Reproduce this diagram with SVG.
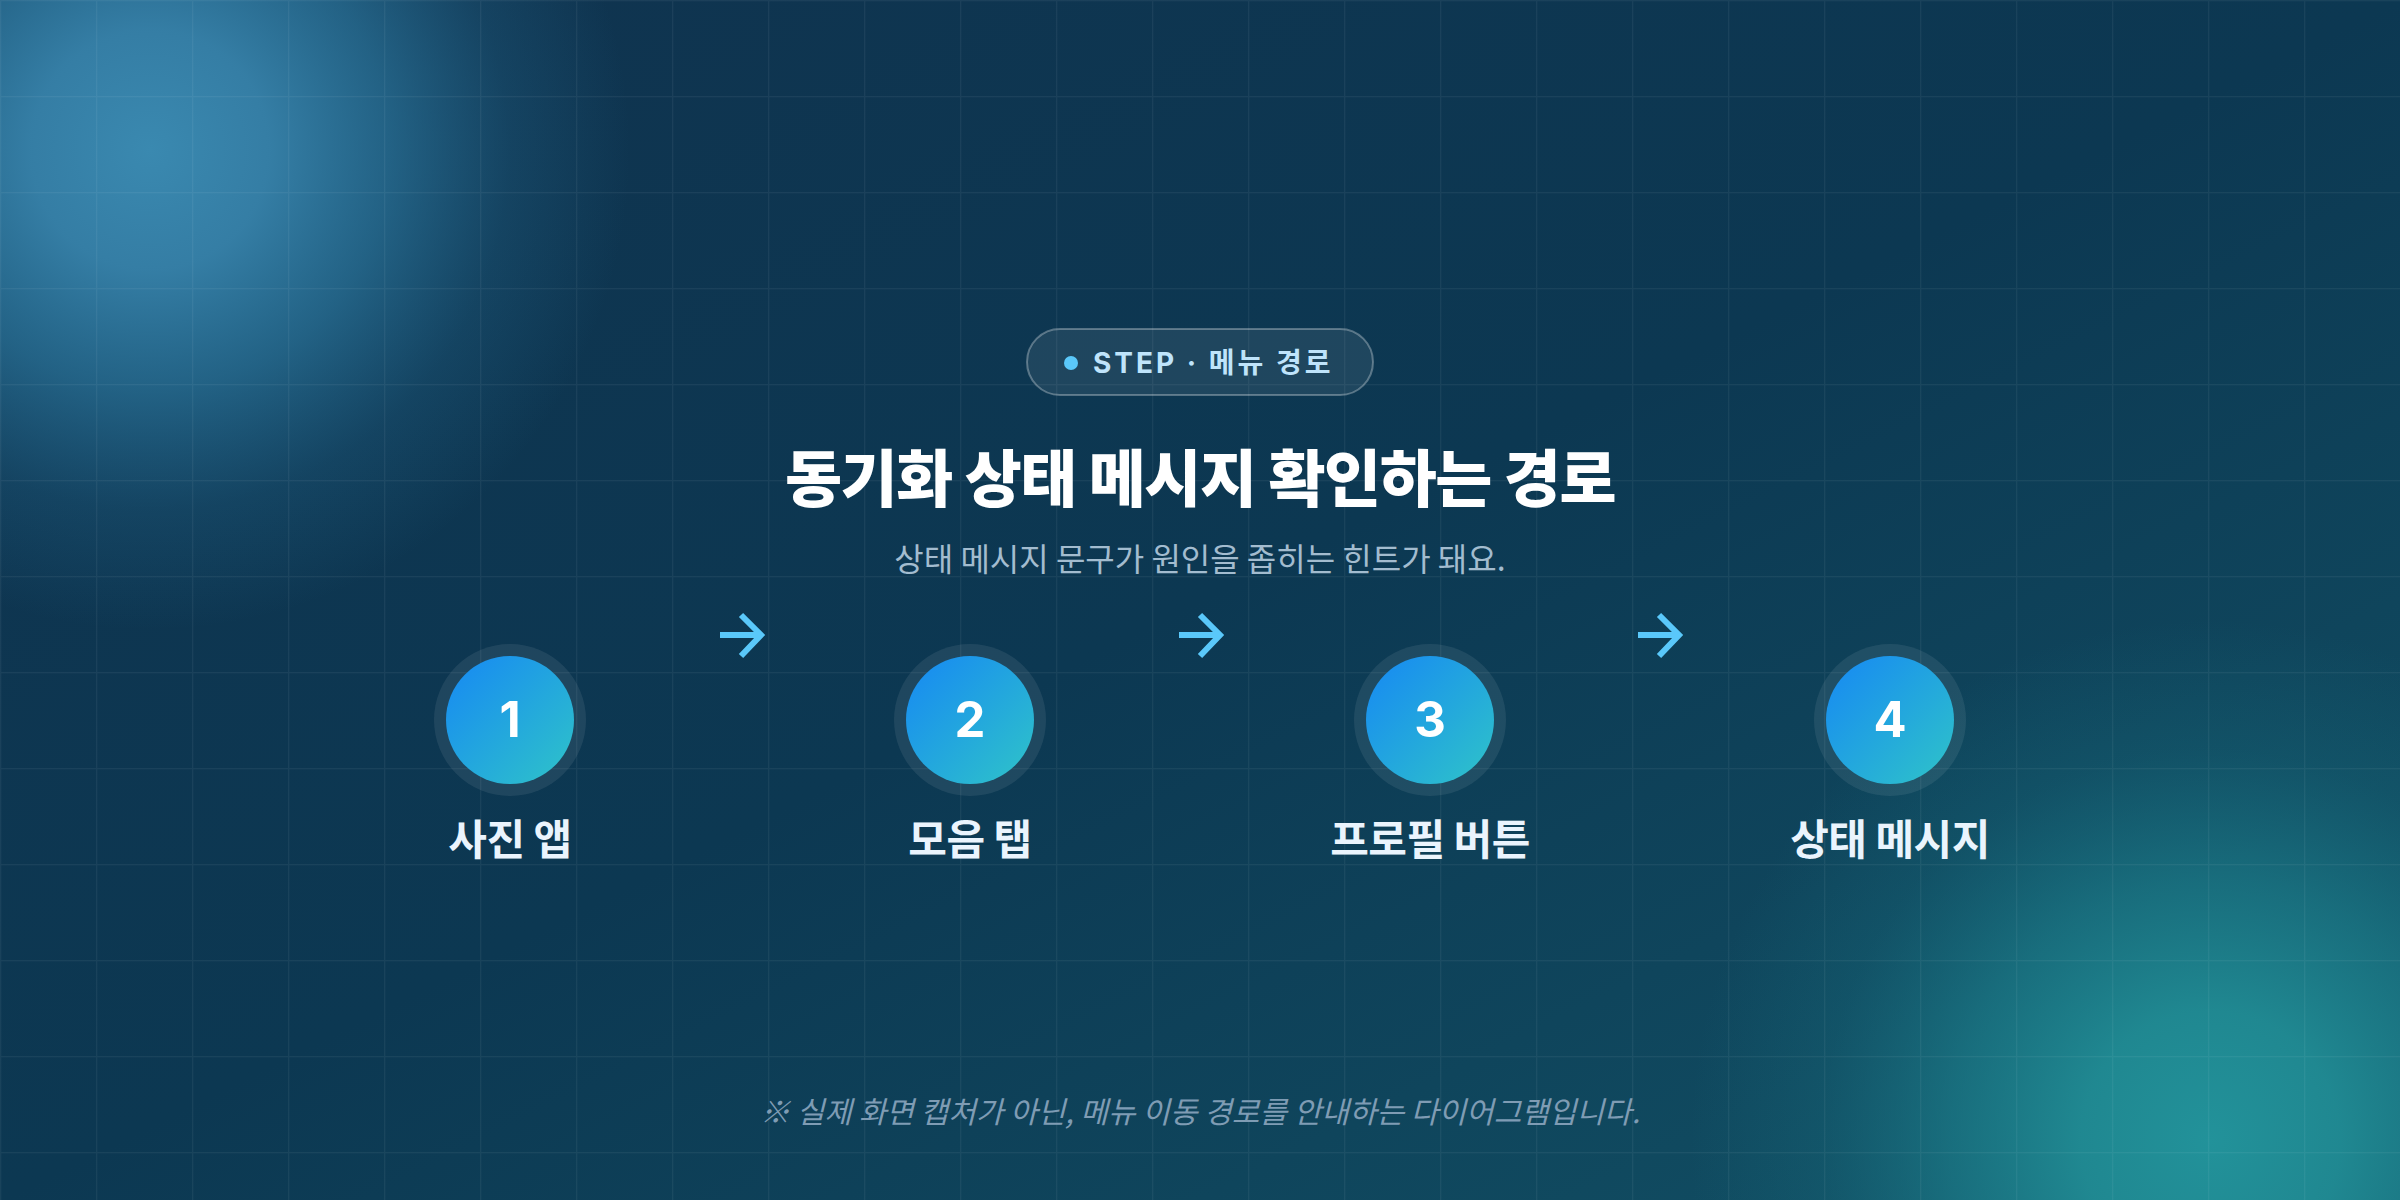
<svg xmlns="http://www.w3.org/2000/svg" width="2400" height="1200" viewBox="0 0 2400 1200">
  <defs>
    <linearGradient id="bg" x1="0" y1="0" x2="1" y2="1">
      <stop offset="0" stop-color="#10334f"/>
      <stop offset="0.5" stop-color="#0c3852"/>
      <stop offset="1" stop-color="#125266"/>
    </linearGradient>
    <radialGradient id="glowTL" cx="150" cy="150" r="480" gradientUnits="userSpaceOnUse">
      <stop offset="0" stop-color="#3a89b0" stop-opacity="1"/>
      <stop offset="0.25" stop-color="#3884ac" stop-opacity="0.92"/>
      <stop offset="0.5" stop-color="#3080a8" stop-opacity="0.6"/>
      <stop offset="0.75" stop-color="#2a78a0" stop-opacity="0.22"/>
      <stop offset="1" stop-color="#2a78a0" stop-opacity="0"/>
    </radialGradient>
    <radialGradient id="glowBR" cx="2210" cy="1140" r="520" gradientUnits="userSpaceOnUse">
      <stop offset="0" stop-color="#22929a" stop-opacity="1"/>
      <stop offset="0.25" stop-color="#218d95" stop-opacity="0.92"/>
      <stop offset="0.5" stop-color="#1e8590" stop-opacity="0.6"/>
      <stop offset="0.75" stop-color="#1a7a88" stop-opacity="0.22"/>
      <stop offset="1" stop-color="#1a7a88" stop-opacity="0"/>
    </radialGradient>
    <linearGradient id="disc" x1="0" y1="0" x2="1" y2="1">
      <stop offset="0" stop-color="#1688f4"/>
      <stop offset="1" stop-color="#2fc4c8"/>
    </linearGradient>
    <pattern id="grid" width="96" height="96" patternUnits="userSpaceOnUse">
      <path d="M96 0.5 H0.5 V96" fill="none" stroke="#ffffff" stroke-opacity="0.055" stroke-width="1.5"/>
    </pattern>
  </defs>
  <style>
    .ring { fill: #ffffff; fill-opacity: 0.08; }
    .disc { fill: url(#disc); }
    .num { font-family: Inter, "Noto Sans CJK KR", sans-serif; font-weight: 700; font-size: 49px; fill: #ffffff; text-anchor: middle; }
    .lbl { font-family: "Noto Sans CJK KR", sans-serif; font-weight: 700; font-size: 42px; fill: #eaf4fd; text-anchor: middle; letter-spacing: -0.5px; }
    .arrow { fill: none; stroke: #5ac8fa; stroke-width: 6; stroke-linecap: butt; stroke-linejoin: miter; }
  </style>

  <rect width="2400" height="1200" fill="url(#bg)"/>
  <rect width="2400" height="1200" fill="url(#glowTL)"/>
  <rect width="2400" height="1200" fill="url(#glowBR)"/>
  <rect width="2400" height="1200" fill="url(#grid)"/>

  <g id="badge">
    <rect x="1027" y="329" width="346" height="66" rx="33" fill="#ffffff" fill-opacity="0.08" stroke="#ffffff" stroke-opacity="0.3" stroke-width="2"/>
    <circle cx="1071" cy="363" r="7" fill="#5ac8fa"/>
    <text x="1093" y="373" font-family="Inter, 'Noto Sans CJK KR', sans-serif" font-weight="700" font-size="28" letter-spacing="3" fill="#bfe4fb">STEP · 메뉴 경로</text>
  </g>

  <g id="title">
    <text x="1200" y="502" text-anchor="middle" font-family="'Noto Sans CJK KR', sans-serif" font-weight="800" font-size="62" letter-spacing="-1.4" fill="#ffffff">동기화 상태 메시지 확인하는 경로</text>
    <text x="1200" y="571" text-anchor="middle" font-family="'Noto Sans CJK KR', sans-serif" font-weight="400" font-size="32" fill="#a3bccf">상태 메시지 문구가 원인을 좁히는 힌트가 돼요.</text>
  </g>

  <g id="step1">
    <circle class="ring" cx="510" cy="720" r="76"/>
    <circle class="disc" cx="510" cy="720" r="64"/>
    <text class="num" x="510" y="737">1</text>
    <text class="lbl" x="510" y="855">사진 앱</text>
  </g>
  <g id="step2">
    <circle class="ring" cx="970" cy="720" r="76"/>
    <circle class="disc" cx="970" cy="720" r="64"/>
    <text class="num" x="970" y="737">2</text>
    <text class="lbl" x="970" y="855">모음 탭</text>
  </g>
  <g id="step3">
    <circle class="ring" cx="1430" cy="720" r="76"/>
    <circle class="disc" cx="1430" cy="720" r="64"/>
    <text class="num" x="1430" y="737">3</text>
    <text class="lbl" x="1430" y="855">프로필 버튼</text>
  </g>
  <g id="step4">
    <circle class="ring" cx="1890" cy="720" r="76"/>
    <circle class="disc" cx="1890" cy="720" r="64"/>
    <text class="num" x="1890" y="737">4</text>
    <text class="lbl" x="1890" y="855">상태 메시지</text>
  </g>

  <g id="connectors">
    <path class="arrow" d="M720 635 H761 M741 615 L761 635 L741 656"/>
    <path class="arrow" d="M1179 635 H1220 M1200 615 L1220 635 L1200 656"/>
    <path class="arrow" d="M1638 635 H1679 M1659 615 L1679 635 L1659 656"/>
  </g>

  <g id="footer">
    <text x="1200" y="1123" text-anchor="middle" font-family="'Noto Sans CJK KR', sans-serif" font-style="italic" font-size="30" fill="#7f9cb4">※ 실제 화면 캡처가 아닌, 메뉴 이동 경로를 안내하는 다이어그램입니다.</text>
  </g>
</svg>
